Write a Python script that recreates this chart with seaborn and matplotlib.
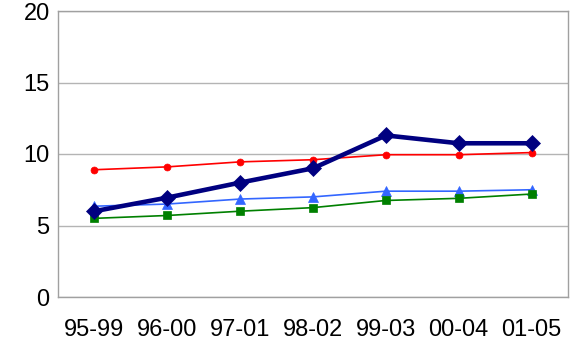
import matplotlib
matplotlib.use("Agg")
import matplotlib.pyplot as plt
import seaborn as sns
import pandas as pd

periods = ["95-99", "96-00", "97-01", "98-02", "99-03", "00-04", "01-05"]
red_series = [8.9, 9.1, 9.45, 9.6, 9.95, 9.95, 10.1]
navy_series = [6.0, 6.95, 8.0, 9.0, 11.3, 10.75, 10.75]
blue_series = [6.35, 6.5, 6.85, 7.0, 7.4, 7.4, 7.5]
green_series = [5.5, 5.7, 6.0, 6.25, 6.75, 6.9, 7.2]
y_ticks = [0, 5, 10, 15, 20]

sns.set_theme(style="white")
plt.rcParams["font.family"] = ["Liberation Sans", "DejaVu Sans"]

fig = plt.figure(figsize=(5.81, 3.43), dpi=100)
ax = fig.add_axes([58 / 581, 1 - 297 / 343, 510 / 581, 286 / 343])

styles = [
    (red_series, "#FF0000", "o", 1.2, 5),
    (blue_series, "#3366FF", "^", 1.2, 6.5),
    (green_series, "#008000", "s", 1.2, 5.5),
    (navy_series, "#000080", "D", 3.3, 8.5),
]
x_idx = list(range(len(periods)))
for values, color, marker, lw, ms in styles:
    df = pd.DataFrame({"x": x_idx, "y": values})
    sns.lineplot(data=df, x="x", y="y", ax=ax, color=color, marker=marker,
                 linewidth=lw, markersize=ms, markeredgecolor=color,
                 markeredgewidth=0.5)

ax.set_xlim(-0.5, len(periods) - 0.5)
ax.set_ylim(0, 20)
ax.set_yticks(y_ticks)
ax.set_xticks(x_idx)
ax.set_xticklabels(periods)
ax.set_xlabel("")
ax.set_ylabel("")
ax.yaxis.grid(True, color="#B4B4B4", linewidth=1.0)
ax.set_axisbelow(True)
for s in ax.spines.values():
    s.set_color("#A0A0A0")
    s.set_linewidth(1.0)
ax.tick_params(axis="both", length=0, labelsize=17, colors="black")
ax.tick_params(axis="y", pad=6)
ax.tick_params(axis="x", pad=16)

fig.savefig("out.png", dpi=100)
